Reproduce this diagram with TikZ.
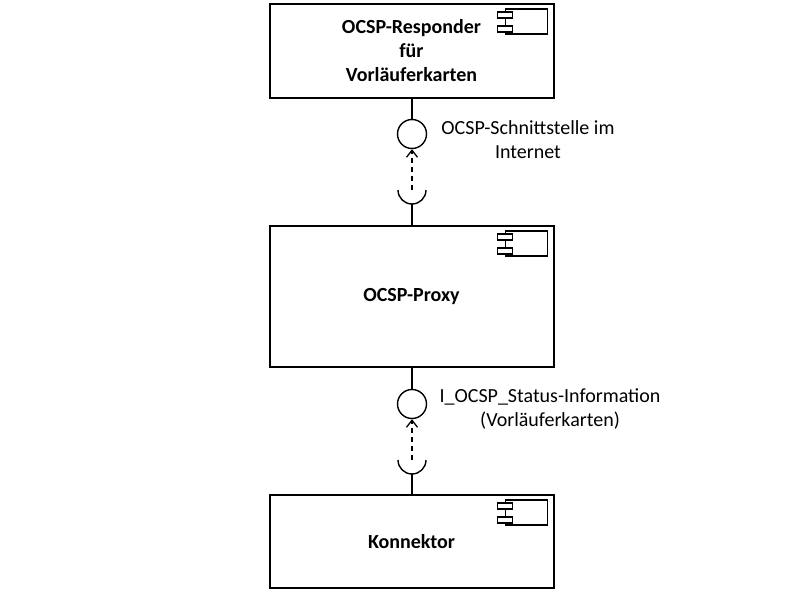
\documentclass[tikz,border=0pt]{standalone}
\usepackage{fontspec}
\setmainfont{Carlito}
\usetikzlibrary{arrows.meta}
\tikzset{
  comp/.style={draw, line width=2pt, minimum width=284pt, inner sep=0pt, align=center, font=\fontsize{20}{24}\selectfont\bfseries},
  lbl/.style={align=center, font=\fontsize{20}{24}\selectfont},
  conn/.style={line width=1.4pt},
  lollipop/.style={draw, circle, line width=1.4pt, minimum size=29pt, inner sep=0pt},
  dep/.style={line width=1.3pt, dashed, dash pattern=on 5pt off 4pt, -{Straight Barb[length=7pt,width=11pt,line width=1.3pt]}},
}
\newcommand{\compicon}[1]{%
  \draw[line width=1.4pt] ([xshift=-49pt,yshift=-6pt]#1.north east) rectangle ([xshift=-7pt,yshift=-31pt]#1.north east);
  \draw[line width=1.4pt,fill=white] ([xshift=-57pt,yshift=-9pt]#1.north east) rectangle ([xshift=-42pt,yshift=-15pt]#1.north east);
  \draw[line width=1.4pt,fill=white] ([xshift=-57pt,yshift=-23pt]#1.north east) rectangle ([xshift=-42pt,yshift=-29pt]#1.north east);
}
\begin{document}
\begin{tikzpicture}[x=1pt,y=-1pt]
\useasboundingbox (0,0) rectangle (785,594);
% components
\node[comp, minimum height=94pt] (resp) at (411.5,51) {OCSP-Responder\\für\\Vorläuferkarten};
\node[comp, minimum height=141pt] (proxy) at (411.5,296.5) {OCSP-Proxy};
\node[comp, minimum height=93pt] (konn) at (411.5,541.5) {Konnektor};
\compicon{resp}
\compicon{proxy}
\compicon{konn}
% interface 1
\node[lollipop] (if1) at (412,134) {};
\coordinate (s1) at (412,190);
\draw[conn] (resp.south -| if1) -- (if1.north);
\draw[conn] ([xshift=-14pt]s1) arc[start angle=180, end angle=360, radius=14pt];
\coordinate (s1b) at (412,204);
\draw[conn] (s1b) -- (proxy.north -| s1b);
\draw[dep] (s1) -- (if1.south);
\node[lbl] (l1) at (528,140) {OCSP-Schnittstelle im\\Internet};
% interface 2
\node[lollipop] (if2) at (412,404) {};
\coordinate (s2) at (412,460);
\draw[conn] (proxy.south -| if2) -- (if2.north);
\draw[conn] ([xshift=-14pt]s2) arc[start angle=180, end angle=360, radius=14pt];
\coordinate (s2b) at (412,474);
\draw[conn] (s2b) -- (konn.north -| s2b);
\draw[dep] (s2) -- (if2.south);
\node[lbl] (l2) at (550,409) {I\_OCSP\_Status-Information\\(Vorläuferkarten)};
\end{tikzpicture}
\end{document}
